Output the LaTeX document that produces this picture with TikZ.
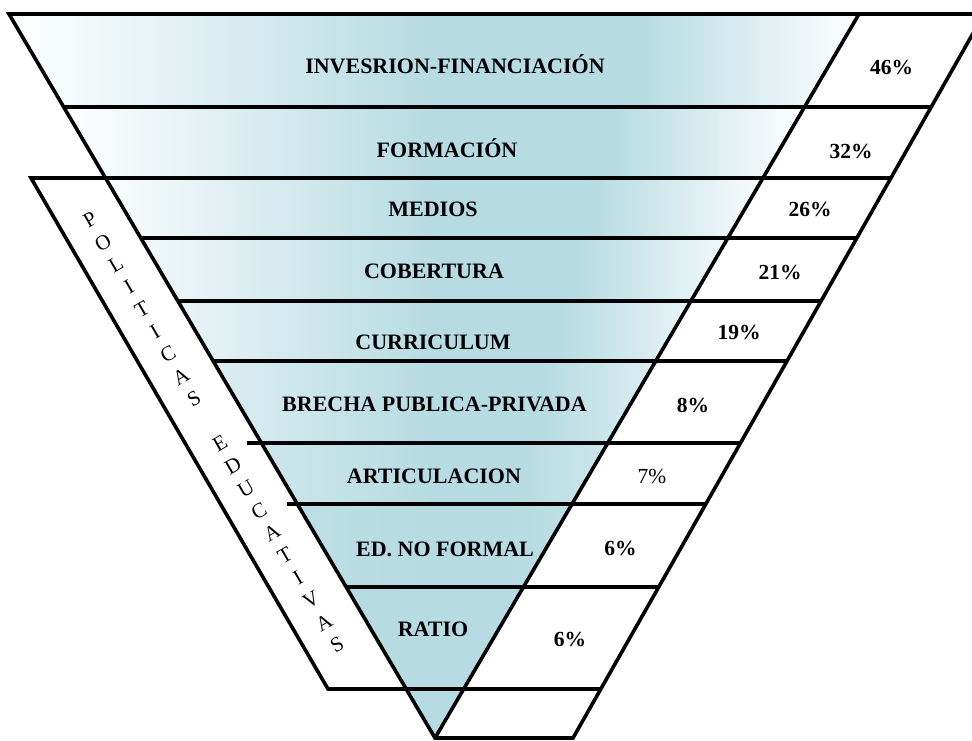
\documentclass[tikz,border=0pt]{standalone}
\usepackage{fontspec}
\setmainfont{Liberation Serif}
\definecolor{tealC}{RGB}{182,219,226}
\colorlet{rowL}{white}
\pgfdeclarehorizontalshading[rowL,tealC]{rowshade}{100bp}{color(0bp)=(rowL); color(25bp)=(rowL); color(50bp)=(tealC); color(62bp)=(tealC); color(75bp)=(rowL); color(100bp)=(rowL)}
\tikzset{
  edge/.style={line width=3.6pt, line join=miter, black},
  lbl/.style={font=\fontsize{22}{26}\selectfont\bfseries, anchor=base, inner sep=0pt},
  pctb/.style={font=\fontsize{21.5}{25}\selectfont\bfseries, anchor=base, inner sep=0pt},
  pctr/.style={font=\fontsize{21.5}{25}\selectfont, anchor=base, inner sep=0pt},
  vlet/.style={font=\fontsize{21}{24}\selectfont, rotate=30, inner sep=0pt}
}
\begin{document}
\begin{tikzpicture}[x=1pt,y=-1pt,
  declare function={lx(\t)=9+0.5884*(\t-14); rx(\t)=859-0.5856*(\t-14); ox(\t)=984-0.5677*(\t-14);}]
\clip (0,0) rectangle (972,740);
\fill[white] (0,0) rectangle (972,740);
% shaded rows of the funnel
\foreach \ya/\yb/\p in {14/107/0, 107/178/0, 178/238/8, 238/301/18, 301/361/30, 361/443/48, 443/504/68, 504/587/90, 587/689/100}{
  \colorlet{rowL}{tealC!\p!white}
  \shade[shading=rowshade] ({lx(\ya)},\ya) -- ({rx(\ya)},\ya) -- ({rx(\yb)},\yb) -- ({lx(\yb)},\yb) -- cycle;
}
\fill[tealC] ({lx(689)},689) -- ({rx(689)},689) -- (435,738) -- cycle;
% key points
\coordinate (TL) at (9,14);
\coordinate (TR) at (859,14);
\coordinate (apex) at (435,738);
\coordinate (OT) at (984,14);
\coordinate (OB) at (573,738);
\coordinate (BT) at (31,178);
\coordinate (BB) at (328,689);
% outline
\draw[edge] (OT) -- (TL) -- (apex) -- (OB) -- cycle;
\draw[edge] (TR) -- (apex);
\draw[edge] ({ox(178)},178) -- (BT) -- (BB) -- ({ox(689)},689);
% row separators
\draw[edge] ({lx(107)},107) -- ({ox(107)},107);
\draw[edge] ({lx(238)},238) -- ({ox(238)},238);
\draw[edge] ({lx(301)},301) -- ({ox(301)},301);
\draw[edge] ({lx(361)},361) -- ({ox(361)},361);
\draw[edge] (247,443) -- ({ox(443)},443);
\draw[edge] (287,504) -- ({ox(504)},504);
\draw[edge] ({lx(587)},587) -- ({ox(587)},587);
% labels
\node[lbl] (r1) at (455,73.5) {INVESRION-FINANCIACIÓN};
\node[lbl] (r2) at (447,157.5) {FORMACIÓN};
\node[lbl] (r3) at (433,216) {MEDIOS};
\node[lbl] (r4) at (434,278.5) {COBERTURA};
\node[lbl] (r5) at (433,349) {CURRICULUM};
\node[lbl] (r6) at (434.5,411) {BRECHA PUBLICA-PRIVADA};
\node[lbl] (r7) at (434,483) {ARTICULACION};
\node[lbl] (r8) at (445,556) {ED. NO FORMAL};
\node[lbl] (r9) at (433,636) {RATIO};
\node[pctb] (p1) at (891.5,74) {46\%};
\node[pctb] (p2) at (851,158.5) {32\%};
\node[pctb] (p3) at (810,216.5) {26\%};
\node[pctb] (p4) at (780,279) {21\%};
\node[pctb] (p5) at (739,339) {19\%};
\node[pctb] (p6) at (693,412.5) {8\%};
\node[pctr] (p7) at (652,483) {7\%};
\node[pctb] (p8) at (620.5,555) {6\%};
\node[pctb] (p9) at (570,646.5) {6\%};
% vertical side label
\foreach \c [count=\i from 0] in {P,O,L,I,T,I,C,A,S,{},E,D,U,C,A,T,I,V,A,S}{
  \node[vlet] (v\i) at ({90+13.0*\i},{220+22.37*\i}) {\c};
}
\end{tikzpicture}
\end{document}
